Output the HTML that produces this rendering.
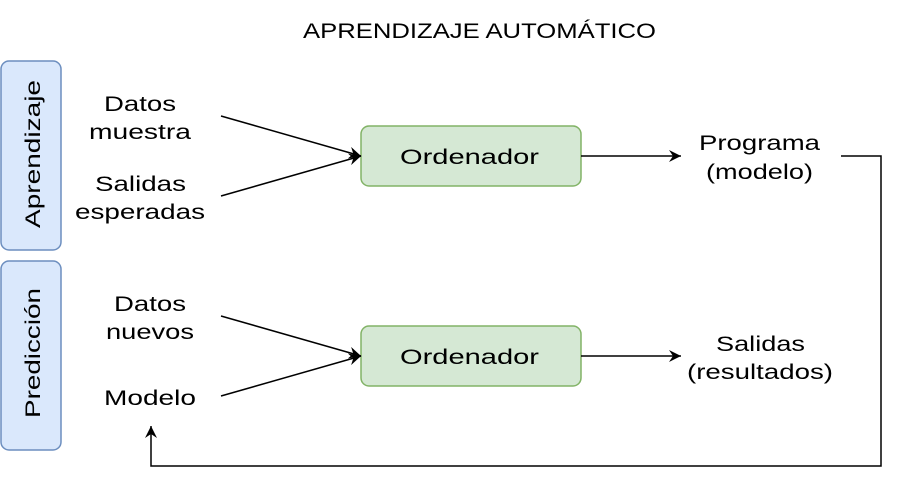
<!DOCTYPE html>
<html><head><meta charset="utf-8"><style>
html,body{margin:0;padding:0;background:#fff;}
svg{display:block;}
text{font-family:"Liberation Sans",sans-serif;font-size:21px;fill:#000;}
</style></head><body>
<svg width="898" height="482" viewBox="0 0 898 482" xmlns="http://www.w3.org/2000/svg">
<defs>
<marker id="a" markerWidth="14" markerHeight="12" refX="12" refY="6" orient="auto" markerUnits="userSpaceOnUse">
<path d="M0,0 L12,6 L0,12 L4,6 z" fill="#000"/>
</marker>
</defs>
<text x="303" y="38" textLength="353" lengthAdjust="spacingAndGlyphs">APRENDIZAJE AUTOMÁTICO</text>
<rect x="1" y="61" width="60" height="189" rx="8" fill="#dae8fc" stroke="#6c8ebf" stroke-width="1.5"/>
<rect x="1" y="261" width="60" height="189" rx="8" fill="#dae8fc" stroke="#6c8ebf" stroke-width="1.5"/>
<text transform="translate(40,228) rotate(-90)" textLength="148" lengthAdjust="spacingAndGlyphs">Aprendizaje</text>
<text transform="translate(40,418) rotate(-90)" textLength="130" lengthAdjust="spacingAndGlyphs">Predicción</text>
<rect x="361" y="126" width="220" height="60" rx="8" fill="#d5e8d4" stroke="#82b366" stroke-width="1.5"/>
<rect x="361" y="326" width="220" height="60" rx="8" fill="#d5e8d4" stroke="#82b366" stroke-width="1.5"/>
<text x="400" y="164" textLength="139" lengthAdjust="spacingAndGlyphs">Ordenador</text>
<text x="400" y="364" textLength="139" lengthAdjust="spacingAndGlyphs">Ordenador</text>
<text x="104" y="111" textLength="72" lengthAdjust="spacingAndGlyphs">Datos</text>
<text x="89" y="139" textLength="102" lengthAdjust="spacingAndGlyphs">muestra</text>
<text x="95" y="191" textLength="91" lengthAdjust="spacingAndGlyphs">Salidas</text>
<text x="75" y="219" textLength="130" lengthAdjust="spacingAndGlyphs">esperadas</text>
<text x="699" y="150" textLength="121" lengthAdjust="spacingAndGlyphs">Programa</text>
<text x="706" y="179" textLength="107" lengthAdjust="spacingAndGlyphs">(modelo)</text>
<text x="114" y="311" textLength="72" lengthAdjust="spacingAndGlyphs">Datos</text>
<text x="106" y="339" textLength="88" lengthAdjust="spacingAndGlyphs">nuevos</text>
<text x="104" y="405" textLength="92" lengthAdjust="spacingAndGlyphs">Modelo</text>
<text x="716" y="351" textLength="89" lengthAdjust="spacingAndGlyphs">Salidas</text>
<text x="687" y="379" textLength="146" lengthAdjust="spacingAndGlyphs">(resultados)</text>
<g stroke="#000" stroke-width="1.5" fill="none">
<line x1="221" y1="116" x2="361" y2="156" marker-end="url(#a)"/>
<line x1="221" y1="196" x2="361" y2="156" marker-end="url(#a)"/>
<line x1="581" y1="156" x2="681" y2="156" marker-end="url(#a)"/>
<line x1="221" y1="316" x2="361" y2="356" marker-end="url(#a)"/>
<line x1="221" y1="396" x2="361" y2="356" marker-end="url(#a)"/>
<line x1="581" y1="356" x2="681" y2="356" marker-end="url(#a)"/>
<polyline points="841,156 881,156 881,466 151,466 151,426" marker-end="url(#a)"/>
</g>
</svg>
</body></html>
